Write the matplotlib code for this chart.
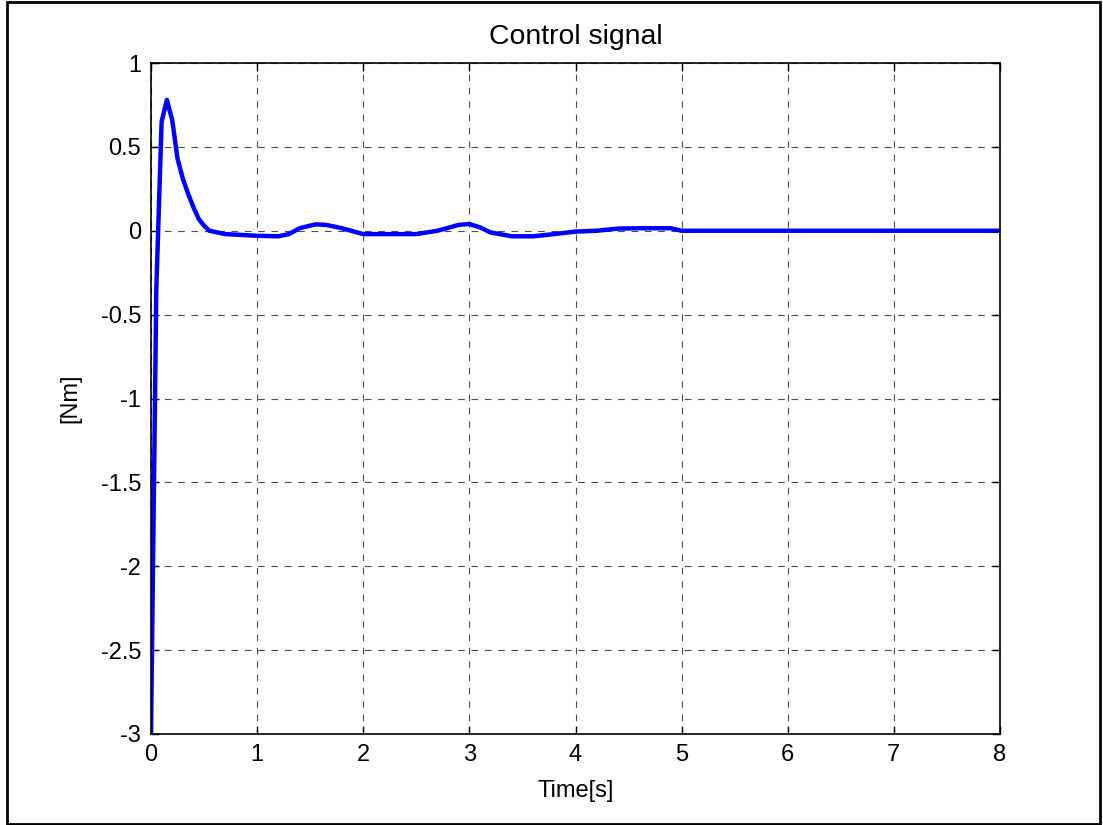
import matplotlib
matplotlib.use('Agg')
import matplotlib.pyplot as plt
from matplotlib.patches import Rectangle

# control signal
t = [0.0, 0.05, 0.1, 0.15, 0.2, 0.25, 0.3, 0.35, 0.4, 0.45, 0.5, 0.55, 0.7, 0.85,
     1.0, 1.2, 1.3, 1.4, 1.55, 1.65, 1.8, 2.0, 2.2, 2.5, 2.7, 2.9, 3.0, 3.1, 3.2,
     3.4, 3.6, 3.8, 4.0, 4.2, 4.4, 4.6, 4.8, 4.9, 5.0, 8.0]
u = [-3.0, -0.35, 0.65, 0.78, 0.66, 0.43, 0.31, 0.22, 0.14, 0.07, 0.03, 0.0, -0.02, -0.025,
     -0.03, -0.033, -0.02, 0.015, 0.038, 0.035, 0.015, -0.02, -0.02, -0.02, 0.0, 0.035,
     0.04, 0.02, -0.01, -0.033, -0.033, -0.02, -0.005, 0.0, 0.013, 0.015, 0.015, 0.015,
     0.0, 0.0]

xticks = [0, 1, 2, 3, 4, 5, 6, 7, 8]
yticks = [-3, -2.5, -2, -1.5, -1, -0.5, 0, 0.5, 1]
ytick_labels = ['-3', '-2.5', '-2', '-1.5', '-1', '-0.5', '0', '0.5', '1']

plt.rcParams['font.family'] = ['Liberation Sans', 'DejaVu Sans']
plt.rcParams['font.size'] = 17

fig = plt.figure(figsize=(11.03, 8.25), dpi=100)
ax = fig.add_axes([151 / 1103, 1 - 734 / 825, 849 / 1103, 671 / 825])

ax.plot(t, u, color='#0000ff', linewidth=3.2)

ax.set_xlim(0, 8)
ax.set_ylim(-3, 1)
ax.set_xticks(xticks)
ax.set_yticks(yticks)
ax.set_yticklabels(ytick_labels)
ax.tick_params(direction='in', length=6, width=1, top=True, right=True, pad=7)
ax.grid(True, color='black', linestyle=(0, (6, 6)), linewidth=0.8, alpha=0.7)
for s in ax.spines.values():
    s.set_linewidth(1.2)

ax.set_title('Control signal', pad=14)
ax.set_xlabel('Time[s]', labelpad=10)
ax.set_ylabel('[Nm]', labelpad=14)

# outer frame around the whole figure
fig.patches.append(Rectangle((7 / 1103, 1 / 825), 1093 / 1103, 822 / 825,
                             transform=fig.transFigure, fill=False,
                             edgecolor='black', linewidth=2))

fig.savefig('out.png', dpi=100)
